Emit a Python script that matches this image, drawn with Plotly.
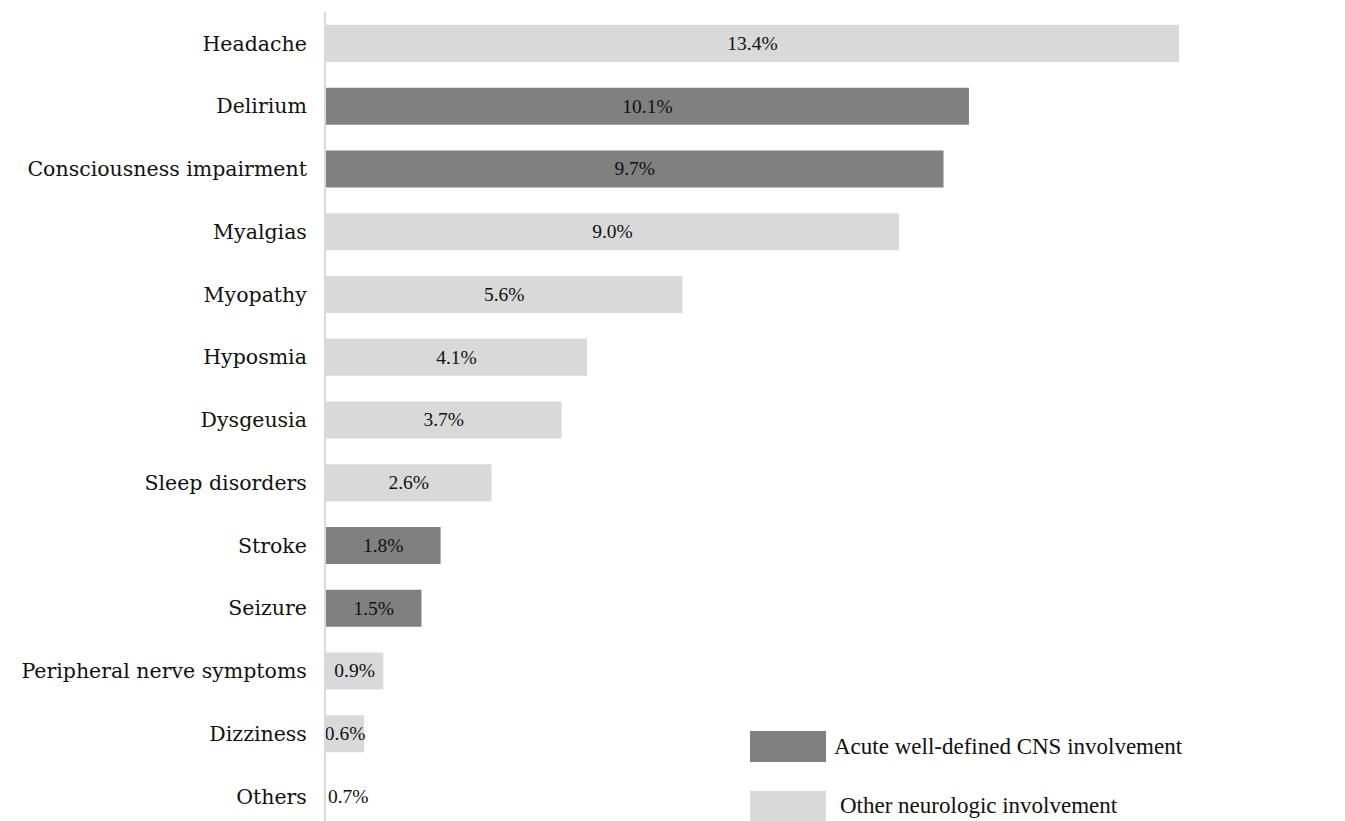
import plotly.graph_objects as go

categories = ["Headache", "Delirium", "Consciousness impairment", "Myalgias", "Myopathy",
              "Hyposmia", "Dysgeusia", "Sleep disorders", "Stroke", "Seizure",
              "Peripheral nerve symptoms", "Dizziness", "Others"]
values = [13.4, 10.1, 9.7, 9.0, 5.6, 4.1, 3.7, 2.6, 1.8, 1.5, 0.9, 0.6, 0.7]
groups = ["other", "cns", "cns", "other", "other", "other", "other", "other",
          "cns", "cns", "other", "other", "none"]
labels = [f"{v:.1f}%" for v in values]

legend_names = {"cns": "Acute well-defined CNS involvement",
                "other": "Other neurologic involvement"}
colors = {"cns": "#808080", "other": "#d9d9d9", "none": "#ffffff"}

fig = go.Figure()
fig.add_trace(go.Bar(
    x=values, y=categories, orientation="h",
    marker=dict(color=[colors[g] for g in groups], line=dict(width=0)),
    text=labels, textposition="inside", insidetextanchor="middle",
    textangle=0, constraintext="none",
    textfont=dict(family="Liberation Serif", size=19.5, color="#111111"),
    showlegend=False, hoverinfo="x+y",
))

W, H = 1345, 821
L, T = 326, 11.6
pw, ph = W - L, H - T

def px(x):
    return (x - L) / pw

def py(y):
    return (H - y) / ph

# legend drawn as shapes + text
for key, (ytop, ybot, tx, ty) in {"cns": (731, 762, 832, 746),
                                   "other": (791, 821, 838, 805)}.items():
    fig.add_shape(type="rect", xref="paper", yref="paper",
                  x0=px(750), x1=px(826), y0=py(ybot), y1=py(ytop),
                  fillcolor=colors[key], line=dict(width=0))
    fig.add_annotation(xref="paper", yref="paper", x=px(tx), y=py(ty),
                       xanchor="left", yanchor="middle", showarrow=False,
                       text=legend_names[key],
                       font=dict(family="Liberation Serif", size=23, color="#111111"))

fig.update_layout(
    width=W, height=H,
    margin=dict(l=L, r=0, t=T, b=0),
    paper_bgcolor="white", plot_bgcolor="white",
    bargap=0.41,
    xaxis=dict(range=[0, pw / 63.66], showgrid=False, zeroline=False,
               showline=False, showticklabels=False, ticks=""),
    yaxis=dict(range=[12.39, -0.5], showgrid=False, zeroline=False,
               showline=True, linecolor="#d9d9d9", linewidth=2,
               ticks="", ticklabelstandoff=13,
               tickfont=dict(family="DejaVu Serif", size=20.5, color="#111111")),
)

fig.write_html("out.html", config={"displayModeBar": False},
               post_script="document.body.style.margin='0';document.body.style.overflow='hidden';")
